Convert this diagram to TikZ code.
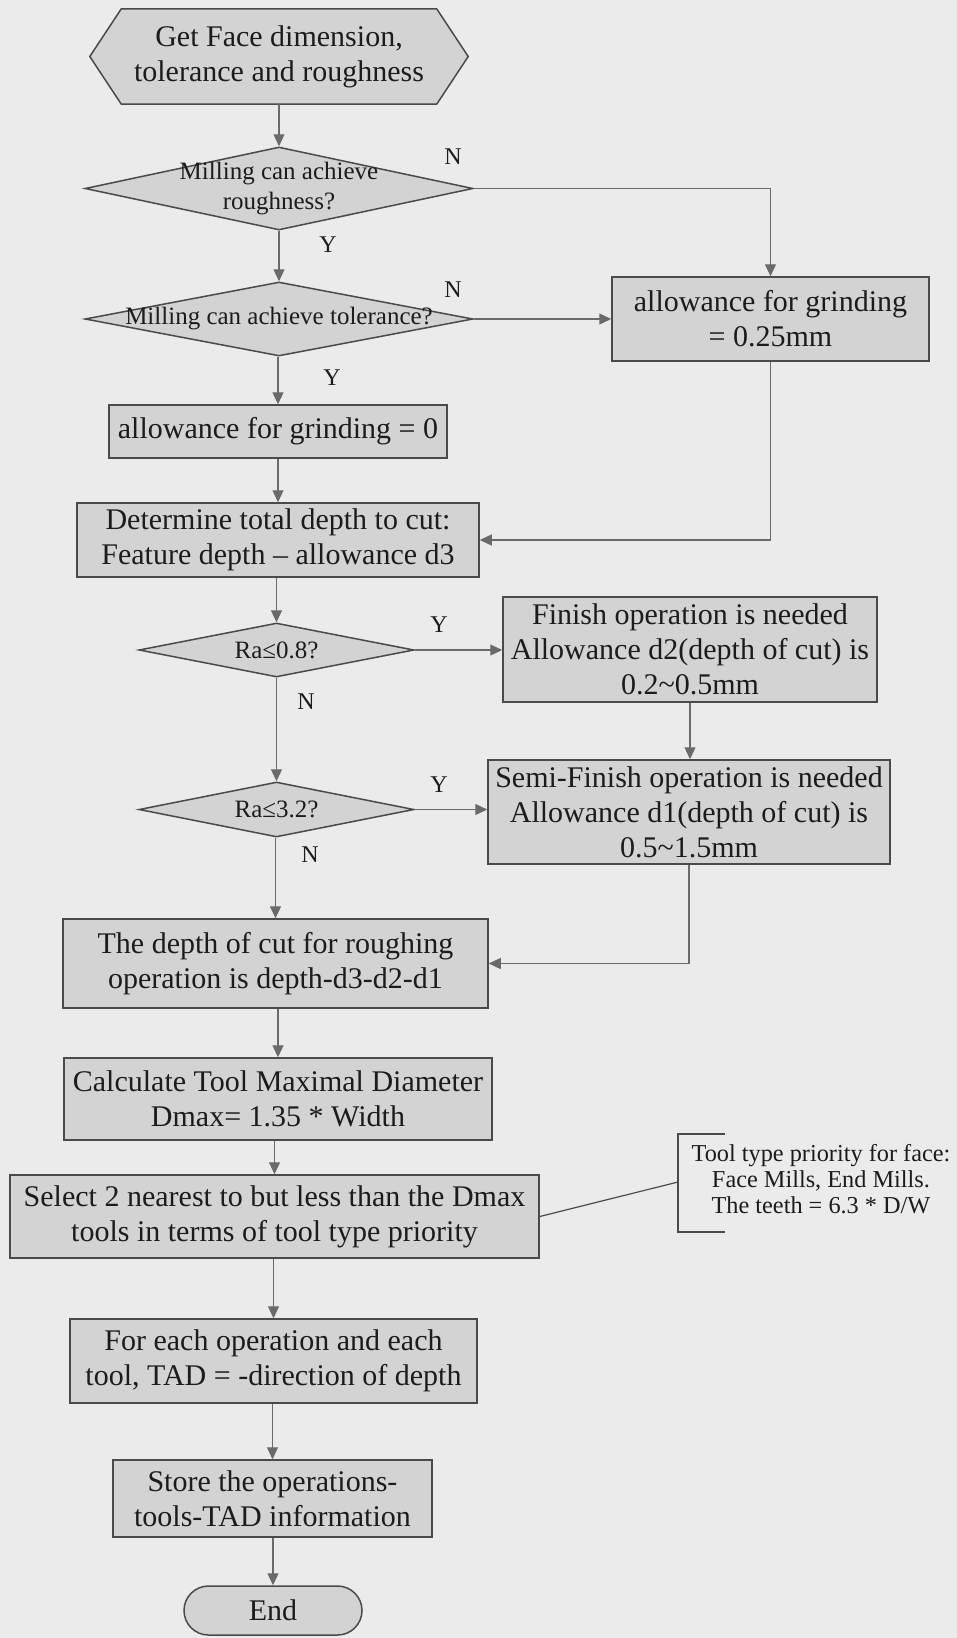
\documentclass[tikz,border=0pt]{standalone}
\usepackage{fontspec}
\setmainfont{Liberation Serif}
\usetikzlibrary{shapes.geometric,shapes.misc,arrows.meta,calc}

\definecolor{paper}{HTML}{EBEBEB}
\definecolor{boxfill}{HTML}{D3D3D3}
\definecolor{edge}{HTML}{4A4A4A}
\definecolor{wire}{HTML}{6A6A6A}
\definecolor{ink}{HTML}{1C1C1C}

\pgfdeclarelayer{bg}
\pgfsetlayers{bg,main}

\begin{document}
\begin{tikzpicture}[x=1pt,y=-1pt,
  every node/.style={text=ink},
  proc/.style={draw=edge, line width=1.5pt, fill=boxfill, rectangle, inner sep=0pt,
    align=center, font=\fontsize{30}{35}\selectfont},
  decide/.style={draw=edge, line width=1.5pt, fill=boxfill, diamond, inner sep=0pt},
  qtext/.style={align=center, inner sep=0pt, font=\fontsize{25}{30}\selectfont},
  yn/.style={inner sep=0pt, font=\fontsize{24}{24}\selectfont},
  arr/.style={draw=wire, line width=1.1pt, -{Triangle[length=12pt,width=11pt]}},
  wireline/.style={draw=edge, line width=1.2pt},
  notetext/.style={align=center, inner sep=0pt, font=\fontsize{24.3}{26}\selectfont},
]

\begin{pgfonlayer}{bg}
  \fill[paper] (0,0) rectangle (957,1638);
\end{pgfonlayer}
\useasboundingbox (0,0) rectangle (957,1638);

% start: hexagonal input box
\node[inner sep=0pt, minimum width=315, minimum height=95, align=center,
      font=\fontsize{30}{35}\selectfont] (start) at (279,56.5)
      {Get Face dimension,\\tolerance and roughness};
\begin{pgfonlayer}{bg}
  \filldraw[draw=edge, line width=1.5pt, fill=boxfill, line join=round]
    (start.north west) -- (start.north east) -- ($(start.east)+(31.5,0)$)
    -- (start.south east) -- (start.south west) -- ($(start.west)+(-31.5,0)$) -- cycle;
\end{pgfonlayer}

% decisions on milling
\node[decide, minimum width=388, minimum height=83] (d1) at (279,188.5) {};
\node[qtext] (d1q) at (d1.center) {Milling can achieve\\roughness?};
\node[decide, minimum width=388, minimum height=74] (d2) at (279,319) {};
\node[qtext] (d2q) at (d2.center) {Milling can achieve tolerance?};

% grinding allowances
\node[proc, minimum width=317, minimum height=84] (g25) at (770.5,319)
  {allowance for grinding\\= 0.25mm};
\node[proc, minimum width=338, minimum height=53] (g0) at (278,431.5)
  {allowance for grinding = 0};
\node[proc, minimum width=402, minimum height=74] (det) at (278,540)
  {Determine total depth to cut:\\Feature depth – allowance d3};

% roughness checks
\node[decide, minimum width=275, minimum height=54] (d3) at (276.5,650) {};
\node[qtext] (d3q) at (d3.center) {Ra≤0.8?};
\node[decide, minimum width=275, minimum height=55] (d4) at (276.5,809.5) {};
\node[qtext] (d4q) at (d4.center) {Ra≤3.2?};

\node[proc, minimum width=374, minimum height=105] (fin) at (690,649.5)
  {Finish operation is needed\\Allowance d2(depth of cut) is\\0.2\textasciitilde0.5mm};
\node[proc, minimum width=402, minimum height=104] (semi) at (689,812)
  {Semi-Finish operation is needed\\Allowance d1(depth of cut) is\\0.5\textasciitilde1.5mm};

% roughing and tool selection
\node[proc, minimum width=425, minimum height=89] (rough) at (275.5,963.5)
  {The depth of cut for roughing\\operation is depth-d3-d2-d1};
\node[proc, minimum width=428, minimum height=82] (calc) at (278,1099)
  {Calculate Tool Maximal Diameter\\Dmax= 1.35 * Width};
\node[proc, minimum width=529, minimum height=83] (sel) at (274.5,1216.5)
  {Select 2 nearest to but less than the Dmax\\tools in terms of tool type priority};
\node[proc, minimum width=407, minimum height=84] (each) at (273.5,1361)
  {For each operation and each\\tool, TAD = -direction of depth};
\node[proc, minimum width=319, minimum height=77] (store) at (272.5,1498.5)
  {Store the operations-\\tools-TAD information};
\node[proc, rounded rectangle, minimum width=178, minimum height=49] (end) at (273,1610.5)
  {End};

% annotation
\node[notetext] (note) at (821,1179)
  {Tool type priority for face:\\Face Mills, End Mills.\\The teeth = 6.3 * D/W};
\coordinate (bt) at (678,1134);
\coordinate (bb) at (678,1232);
\coordinate (bm) at (678,1182);
\draw[wireline] ($(bt)+(47,0)$) -- (bt) -- (bb) -- ($(bb)+(47,0)$);
\draw[wireline] (sel.east) -- (bm);

% Y / N labels
\node[yn] (n1) at (453,157) {N};
\node[yn] (y1) at (328,245) {Y};
\node[yn] (n2) at (453,290) {N};
\node[yn] (y2) at (332,378) {Y};
\node[yn] (y3) at (439,625) {Y};
\node[yn] (n3) at (306,702) {N};
\node[yn] (y4) at (439,785) {Y};
\node[yn] (n4) at (310,855) {N};

% main column
\draw[arr] (start.south -| d1.north) -- (d1.north);
\draw[arr] (d1.south) -- (d2.north);
\draw[arr] (d2.south -| g0.north) -- (g0.north);
\draw[arr] (g0.south -| det.north) -- (det.north);
\draw[arr] (det.south -| d3.north) -- (d3.north);
\draw[arr] (d3.south) -- (d4.north);
\draw[arr] (d4.south -| rough.north) -- (rough.north);
\draw[arr] (rough.south -| calc.north) -- (calc.north);
\draw[arr] (calc.south -| sel.north) -- (sel.north);
\draw[arr] (sel.south -| each.north) -- (each.north);
\draw[arr] (each.south -| store.north) -- (store.north);
\draw[arr] (store.south -| end.north) -- (end.north);

% side branches
\draw[arr] (d1.east) -| (g25.north);
\draw[arr] (d2.east) -- (g25.west);
\draw[arr] (g25.south) |- (det.east);
\draw[arr] (d3.east) -- (d3.east -| fin.west);
\draw[arr] (fin.south) -- (fin.south |- semi.north);
\draw[arr] (d4.east) -- (d4.east -| semi.west);
\draw[arr] (semi.south) |- (rough.east);
\end{tikzpicture}
\end{document}
